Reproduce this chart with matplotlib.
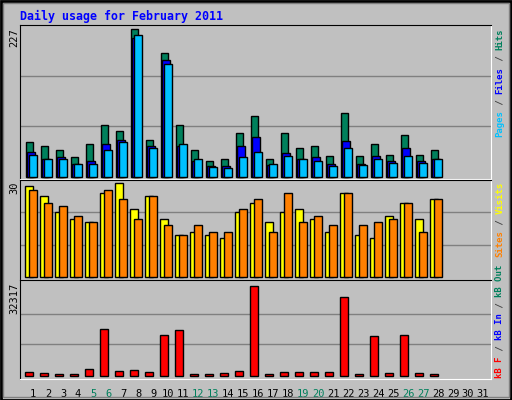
import matplotlib.pyplot as plt
import numpy as np
from matplotlib.patches import Rectangle

days = np.arange(1, 29)
hits = [54, 47, 42, 30, 51, 79, 71, 227, 57, 190, 79, 42, 25, 27, 67, 93, 28, 67, 45, 47, 33, 98, 33, 51, 34, 65, 34, 42]
files = [39, 27, 30, 20, 24, 51, 57, 213, 47, 179, 47, 25, 17, 17, 47, 62, 19, 37, 28, 30, 20, 56, 20, 33, 25, 45, 24, 28]
pages = [34, 28, 27, 20, 20, 41, 53, 218, 44, 173, 50, 27, 16, 14, 30, 39, 20, 33, 27, 24, 17, 45, 19, 27, 22, 33, 22, 27]
visits = [28, 25, 20, 18, 17, 26, 29, 21, 25, 18, 13, 14, 13, 12, 20, 23, 17, 20, 21, 18, 14, 26, 13, 12, 19, 23, 18, 24]
sites = [27, 23, 22, 19, 17, 27, 24, 18, 25, 16, 13, 16, 14, 14, 21, 24, 14, 26, 17, 19, 16, 26, 16, 17, 18, 23, 14, 24]
kbf = [1180, 830, 470, 470, 2240, 16750, 1530, 1890, 1180, 14630, 16400, 470, 470, 830, 1530, 32317,
       470, 1180, 1180, 1180, 1180, 28080, 470, 14270, 830, 14630, 830, 470]
weekends = [5, 6, 12, 13, 19, 20, 26, 27]

BG = '#c0c0c0'
C_HITS, C_FILES, C_PAGES = '#00805c', '#0000ff', '#00c0ff'
C_VIS, C_SITES, C_KBF = '#ffff00', '#ff8000', '#ff0000'
W, H = 512, 400
mono = 'DejaVu Sans Mono'

fig = plt.figure(figsize=(W / 100, H / 100), dpi=100, facecolor=BG)

def add_ax(top, bottom):
    return fig.add_axes([20 / W, 1 - bottom / H, (491 - 20) / W, (bottom - top) / H])

def style(ax, lo, hi, grid):
    ax.set_facecolor(BG)
    ax.set_xlim(0.13, 31.53)
    ax.set_ylim(lo, hi)
    for g in grid:
        ax.axhline(g, color='#808080', lw=1, zorder=0)
    ax.set_xticks([])
    ax.set_yticks([])
    for s in ['left', 'top']:
        ax.spines[s].set_color('black')
    for s in ['right', 'bottom']:
        ax.spines[s].set_color('white')

bk = dict(edgecolor='black', linewidth=1, align='edge')

ax1 = add_ax(25, 179)
style(ax1, -3, 233, [233 / 3, 233 * 2 / 3])
ax1.bar(days - 0.5, hits, 0.5, color=C_HITS, **bk)
ax1.bar(days - 0.38, files, 0.5, color=C_FILES, **bk)
ax1.bar(days - 0.28, pages, 0.53, color=C_PAGES, **bk)

ax2 = add_ax(180, 280)
style(ax2, -0.93, 30, [10, 20])
ax2.bar(days - 0.51, visits, 0.53, color=C_VIS, **bk)
ax2.bar(days - 0.29, sites, 0.53, color=C_SITES, **bk)

ax3 = add_ax(280, 379)
style(ax3, -1200, 34330, [11455, 22060])
ax3.bar(days - 0.51, kbf, 0.49, color=C_KBF, **bk)

# x day labels
for d in range(1, 32):
    ax3.text(d, -0.1, str(d), transform=ax3.get_xaxis_transform(), ha='center', va='top',
             fontsize=7.5, family=mono, color=C_HITS if d in weekends else 'black')

# title and left max labels
fig.text(20 / W, 1 - 16 / H, 'Daily usage for February 2011', color='#0000ff', fontsize=8.4,
         family=mono, weight='bold', va='center', ha='left')
for label, y in [('227', 28), ('30', 181), ('32317', 283)]:
    fig.text(14 / W, 1 - y / H, label, rotation=90, ha='center', va='top', fontsize=7.5, family=mono)

# right legend labels (vertical, bottom to top)
def vlabel(y0, parts):
    y = y0
    for txt, col in parts:
        fig.text(500 / W, 1 - y / H, txt, rotation=90, ha='center', va='bottom', color=col,
                 fontsize=6.5, family=mono, weight='bold')
        y -= len(txt) * 5.43

vlabel(137, [('Pages', C_PAGES), (' / ', '#404040'), ('Files', C_FILES), (' / ', '#404040'), ('Hits', C_HITS)])
vlabel(257, [('Sites', C_SITES), (' / ', '#404040'), ('Visits', C_VIS)])
vlabel(378, [('kB F', C_KBF), (' / ', '#404040'), ('kB In', C_FILES), (' / ', '#404040'), ('kB Out', C_HITS)])

# outer border
fig.patches.append(Rectangle((0.5 / W, 0.5 / H), 1 - 1.5 / W, 1 - 1.5 / H, transform=fig.transFigure,
                             fill=False, edgecolor='black', linewidth=2))
fig.patches.append(Rectangle((3 / W, 3 / H), 1 - 6 / W, 1 - 6 / H, transform=fig.transFigure,
                             fill=False, edgecolor='#808080', linewidth=1))

fig.savefig('out.png', dpi=100, facecolor=BG)
